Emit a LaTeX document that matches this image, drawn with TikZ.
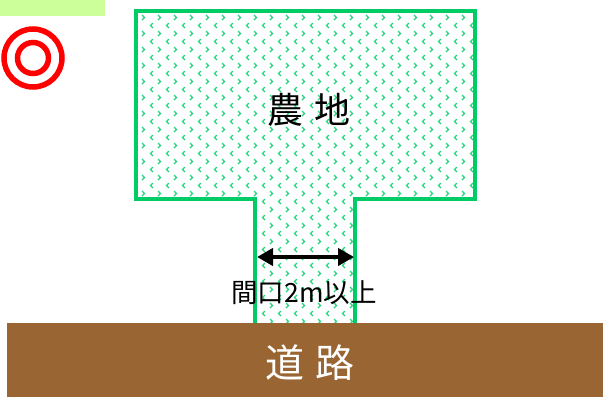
\documentclass[tikz,border=0pt]{standalone}
\usepackage{fontspec}
\newfontfamily\jp{Noto Sans CJK JP}
\usetikzlibrary{arrows.meta}
\definecolor{farmgreen}{HTML}{00CC66}
\definecolor{roadbrown}{HTML}{996633}
\definecolor{tabgreen}{HTML}{CCFF99}
\begin{document}
\begin{tikzpicture}[x=1pt,y=-1pt,
    dot/.style={farmgreen!85,line width=1.2pt},
    border/.style={farmgreen,line width=3.6pt,line join=miter},
    ring/.style={circle,draw=red,line width=5.5pt,inner sep=0pt},
    gap/.style={line width=4pt,{Triangle[length=16pt,width=17pt]}-{Triangle[length=16pt,width=17pt]}}]
    \useasboundingbox (0,0) rectangle (603,397);
    %% tab and mark
    \fill[tabgreen] (0,0) rectangle (105,16);
    \node[ring,minimum size=58pt] (mark) at (33,58) {};
    \node[ring,minimum size=31pt] (markin) at (mark) {};
    %% farmland pattern
    \begin{scope}
        \clip (136,11) -- (475,11) -- (475,199) -- (355,199) -- (355,323) -- (255,323) -- (255,199) -- (136,199) -- cycle;
        \foreach \i in {0,...,21}
            \foreach \j in {0,...,19}
            {
                \draw[dot] (142+16*\i,15+16*\j) -- ++(2.5,2.5) -- ++(-2.5,2.5);
                \draw[dot] (153+16*\i,23+16*\j) -- ++(-2.5,2.5) -- ++(2.5,2.5);
            }
    \end{scope}
    %% farmland border
    \draw[border] (255,324) -- (255,199) -- (136,199) -- (136,11) -- (475,11) -- (475,199) -- (355,199) -- (355,324);
    \node (farm) at (309,110) {\jp\fontsize{36}{40}\selectfont 農\hspace{0.3em}地};
    %% frontage
    \coordinate (gapL) at (257,257);
    \coordinate (gapR) at (354,257);
    \draw[gap] (gapL) -- (gapR);
    \node (gaptext) at (304,293) {\jp\fontsize{26.5}{30}\selectfont 間口2m以上};
    %% road
    \fill[roadbrown] (7,323) rectangle (603,397);
    \node[white] (road) at (310,363) {\jp\fontsize{39}{44}\selectfont 道\hspace{0.3em}路};
\end{tikzpicture}
\end{document}
